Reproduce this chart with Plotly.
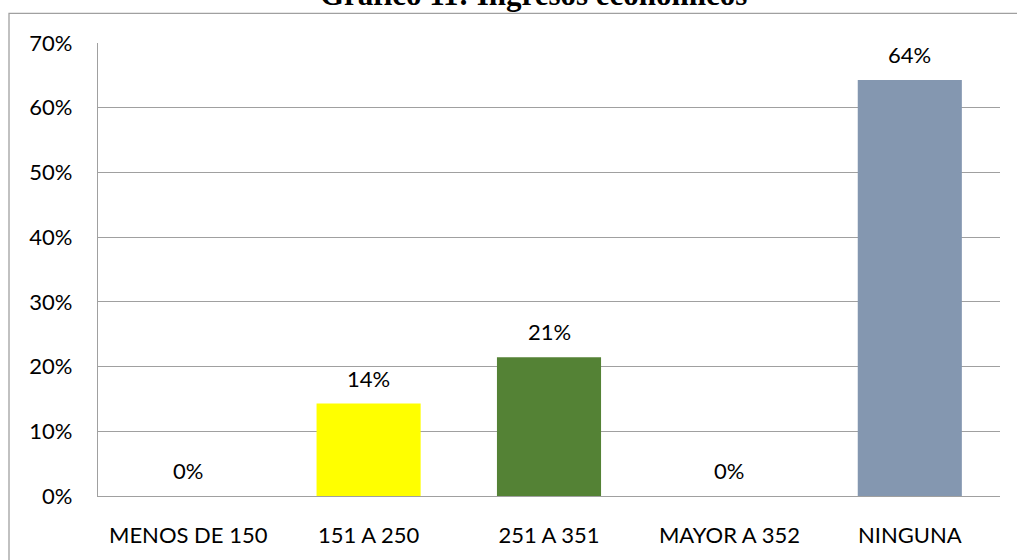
import plotly.graph_objects as go

categories = ["MENOS DE 150", "151 A 250", "251 A 351", "MAYOR A 352", "NINGUNA"]
values = [0.0, 14.29, 21.43, 0.0, 64.29]
labels = ["0%", "14%", "21%", "0%", "64%"]
colors = ["#FFFF00", "#FFFF00", "#548235", "#FFFF00", "#8497B0"]
tick_vals = [0, 10, 20, 30, 40, 50, 60, 70]
tick_text = ["0%", "10%", "20%", "30%", "40%", "50%", "60%", "70%"]
title_text = "Gráfico 11: Ingresos económicos"

W, H = 1017, 560
L, R, T, B = 98, 17, 43, 59
pw, ph = W - L - R, H - T - B
FONT = "Lato, Open Sans, sans-serif"

fig = go.Figure()
fig.add_trace(go.Bar(x=categories, y=values, marker=dict(color=colors, line=dict(width=0)),
                     width=0.577, hoverinfo="skip"))

for c, v, t in zip(categories, values, labels):
    fig.add_annotation(x=c, y=v, text=t, showarrow=False, yanchor="bottom", yshift=10,
                       font=dict(family=FONT, size=22, color="#000000"))

fig.add_annotation(xref="paper", yref="paper", x=(533 - L) / pw, y=(H - B - 14) / ph,
                   text="<b>" + title_text + "</b>", showarrow=False, yanchor="bottom", xanchor="center",
                   font=dict(family="Liberation Serif, Times New Roman, serif", size=31, color="#000000"))

fig.add_shape(type="rect", xref="paper", yref="paper",
              x0=(9 - L) / pw, x1=(W + 20 - L) / pw,
              y0=-(B + 20) / ph, y1=(H - B - 13) / ph,
              line=dict(color="#A0A0A0", width=1.3), fillcolor="rgba(0,0,0,0)", layer="below")

fig.update_layout(
    width=W, height=H,
    margin=dict(l=L, r=R, t=T, b=B, pad=0),
    paper_bgcolor="white", plot_bgcolor="white",
    showlegend=False,
    font=dict(family=FONT, size=22, color="#000000"),
    xaxis=dict(showgrid=False, showline=True, linecolor="#A0A0A0", linewidth=1.3,
               ticks="", ticklabelstandoff=19, tickfont=dict(size=22), fixedrange=True),
    yaxis=dict(range=[0, 70], tickvals=tick_vals, ticktext=tick_text, showgrid=True,
               gridcolor="#A0A0A0", gridwidth=1.3, showline=True, linecolor="#A0A0A0", linewidth=1.3,
               zeroline=False, ticks="", ticklabelstandoff=20, tickfont=dict(size=22), fixedrange=True),
)

fig.write_html("out.html", config={"displayModeBar": False},
               post_script="document.body.style.margin='0';document.body.style.overflow='hidden';")
